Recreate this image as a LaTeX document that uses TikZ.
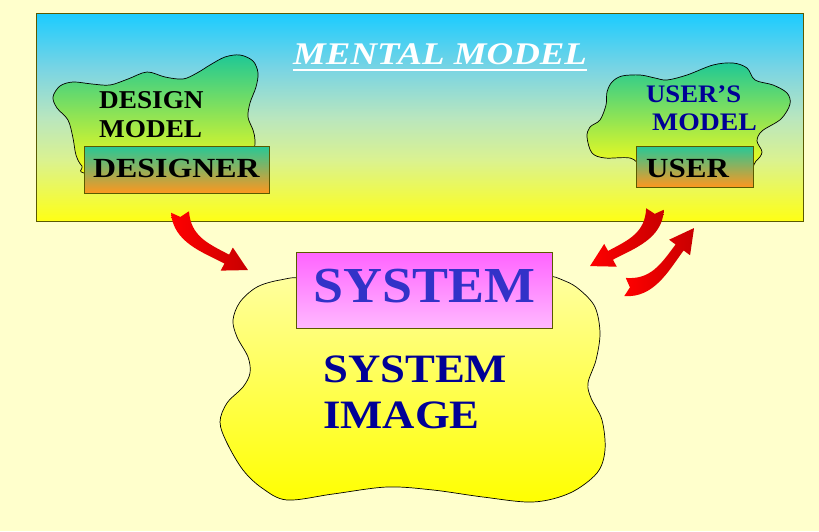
\documentclass[tikz,border=0pt]{standalone}
\usepackage{fontspec}
\setmainfont{Liberation Serif}
\usepackage{graphicx}
\definecolor{cream}{RGB}{255,255,204}
\definecolor{skycyan}{RGB}{28,204,255}
\definecolor{panelhigh}{RGB}{120,212,228}
\definecolor{panelmid}{RGB}{185,230,190}
\definecolor{panellow}{RGB}{218,242,145}
\definecolor{brightyel}{RGB}{255,255,20}
\definecolor{framecol}{RGB}{90,90,0}
\definecolor{cloudgreen}{RGB}{30,200,150}
\definecolor{boxgreen}{RGB}{40,200,150}
\definecolor{boxorange}{RGB}{255,150,30}
\definecolor{sysmagenta}{RGB}{255,100,255}
\definecolor{syspink}{RGB}{255,185,255}
\definecolor{paleyel}{RGB}{255,255,160}
\definecolor{sysblue}{RGB}{50,50,200}
\definecolor{navy}{RGB}{0,0,150}
\definecolor{arrowred}{RGB}{255,0,0}
\definecolor{arrowdark}{RGB}{200,0,0}
% sky-to-sun shading of the mental model panel (25bp = bottom, 75bp = top)
\pgfdeclareverticalshading{panelshade}{100bp}{%
  color(0bp)=(brightyel); color(25bp)=(brightyel);
  color(40bp)=(panellow); color(50bp)=(panelmid);
  color(62bp)=(panelhigh); color(75bp)=(skycyan); color(100bp)=(skycyan)}
\newcommand\stretchtext[2]{\scalebox{#1}[1]{#2}}
% one curved red arrow, tail at the origin, tip at (90,0), bowed towards +y
\newcommand\redarrowshape{%
  \shade[left color=arrowred, right color=arrowdark]
    (-6.4,6.4) -- (3.5,3.5) -- (6.4,-6.4)
    .. controls (23.9,11.1) and (41.2,6.1) .. (65.5,0.5)
    -- (63.7,-7.3) -- (90,0) -- (69.5,18.1) -- (67.7,10.3)
    .. controls (43.35,15.9) and (14.6,27.4) .. (-6.4,6.4) -- cycle;}
\begin{document}
\begin{tikzpicture}[x=1pt,y=-1pt,
  txt/.style={anchor=base west, inner sep=0pt, font=\bfseries},
  blob/.style={draw=black, line width=0.7pt},
  plainbox/.style={draw=framecol, line width=0.9pt, anchor=north west, inner sep=0pt}]
\useasboundingbox (0,0) rectangle (819,531);
\fill[cream] (0,0) rectangle (819,531);

% mental model panel
\node[plainbox, line width=1.4pt, shading=panelshade,
      minimum width=767pt, minimum height=208pt] (mental) at (36,13) {};
\node[txt, text=white, font=\bfseries\itshape\fontsize{31.5}{31.5}\selectfont]
  (title) at (293,64) {\stretchtext{1.17}{MENTAL MODEL}};
\draw[white, line width=1.6pt] ([yshift=-6pt]title.base west) -- ([yshift=-6pt]title.base east);

% design model cloud
\draw[blob, top color=cloudgreen, bottom color=brightyel]
  plot[smooth cycle, tension=0.55] coordinates {
  (53,97) (60,86) (73,82) (92,84) (110,85) (128,79) (147,72) (165,77) (183,79)
  (197,73) (210,65) (225,57) (240,55) (253,61) (258,73) (256,87) (250,103)
  (248,117) (253,130) (255,140) (253,152) (240,172) (95,174) (82,166)
  (76,155) (73,138) (68,120) (57,108)};
\node[txt, font=\bfseries\fontsize{25.7}{25.7}\selectfont] (dm1) at (99,108) {\stretchtext{1.06}{DESIGN}};
\node[txt, font=\bfseries\fontsize{25.7}{25.7}\selectfont] (dm2) at (99,137) {\stretchtext{1.06}{MODEL}};
\node[plainbox, top color=boxgreen, bottom color=boxorange,
      minimum width=185pt, minimum height=47pt] (designer) at (84,146) {};
\node[txt, font=\bfseries\fontsize{27.7}{27.7}\selectfont] (designerlbl) at (93,177) {\stretchtext{1.15}{DESIGNER}};

% user's model cloud
\draw[blob, top color=cloudgreen, bottom color=brightyel]
  plot[smooth cycle, tension=0.55] coordinates {
  (587,137) (590,127) (600,120) (606,105) (607,92) (612,82) (622,76) (640,75)
  (655,78) (667,80) (687,75) (713,65) (733,63) (747,68) (755,80) (773,85)
  (787,93) (790,104) (781,119) (762,131) (757,141) (762,152) (756,161)
  (740,172) (650,166) (630,158) (605,158) (592,153)};
\node[txt, text=navy, font=\bfseries\fontsize{25.2}{25.2}\selectfont] (um1) at (646,102) {\stretchtext{1.06}{USER’S}};
\node[txt, text=navy, font=\bfseries\fontsize{25.2}{25.2}\selectfont] (um2) at (652,130) {\stretchtext{1.1}{MODEL}};
\node[plainbox, top color=boxgreen, bottom color=boxorange,
      minimum width=117pt, minimum height=41pt] (user) at (636,146) {};
\node[txt, font=\bfseries\fontsize{27.7}{27.7}\selectfont] (userlbl) at (646,177) {\stretchtext{1.12}{USER}};

% system image cloud (its top edge runs in behind the SYSTEM box)
\draw[blob, top color=paleyel, bottom color=yellow]
  plot[smooth cycle, tension=0.55] coordinates {
  (303,279) (280,280) (257,287) (240,302) (233,320) (237,337) (248,357)
  (250,373) (243,387) (227,403) (220,422) (227,443) (243,470) (262,488)
  (287,500) (333,494) (387,487) (433,490) (483,497) (533,502) (570,493)
  (597,473) (605,450) (602,420) (591,398) (588,383) (596,360) (600,333)
  (595,307) (580,290) (565,281) (545,277) (520,300) (330,300)};
\node[plainbox, top color=sysmagenta, bottom color=syspink,
      minimum width=256pt, minimum height=76pt] (system) at (296,252) {};
\node[txt, text=sysblue, font=\bfseries\fontsize{50.4}{50.4}\selectfont] (systemlbl) at (313,302) {\stretchtext{1.07}{SYSTEM}};
\node[txt, text=navy, font=\bfseries\fontsize{40.3}{40.3}\selectfont] (si1) at (323,382) {\stretchtext{1.11}{SYSTEM}};
\node[txt, text=navy, font=\bfseries\fontsize{40.3}{40.3}\selectfont] (si2) at (323,428) {\stretchtext{1.11}{IMAGE}};

% red arrows
\coordinate (a1) at (180,212);
\coordinate (a2) at (655,209);
\coordinate (a3) at (625,287);
\begin{scope}[shift={(a1)}, rotate=-40.5, xscale=89.4/90]
  \redarrowshape
\end{scope}
\begin{scope}[shift={(a2)}, rotate=-138.7, xscale=86.5/90, yscale=-1]
  \redarrowshape
\end{scope}
\begin{scope}[shift={(a3)}, rotate=40.5, xscale=90.8/90]
  \redarrowshape
\end{scope}
\end{tikzpicture}
\end{document}
